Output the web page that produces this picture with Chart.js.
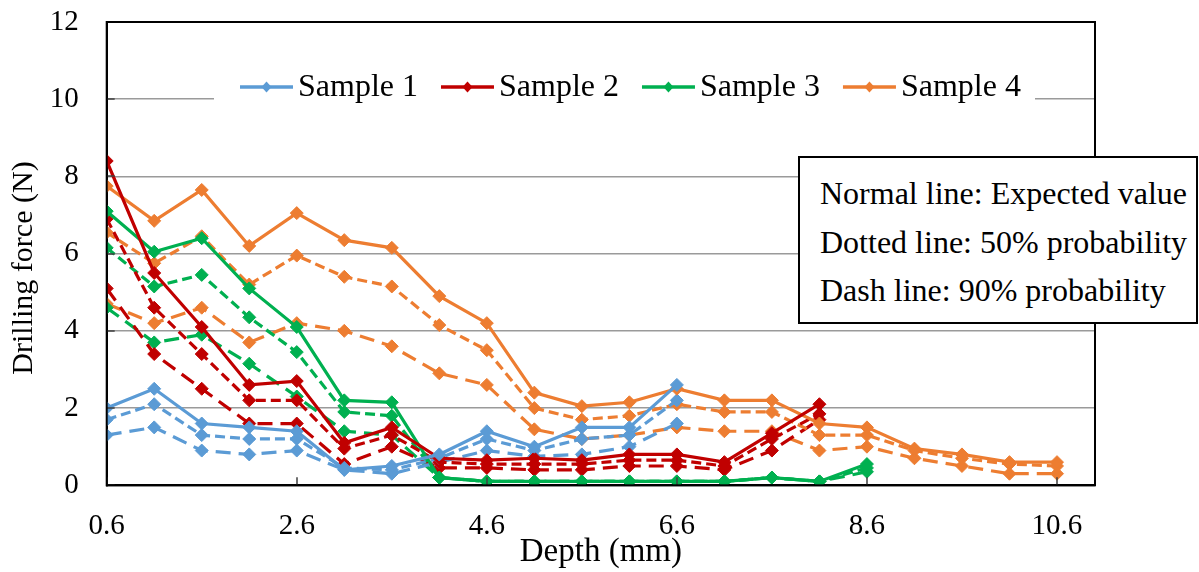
<!DOCTYPE html>
<html>
<head>
<meta charset="utf-8">
<script src="https://cdn.jsdelivr.net/npm/chart.js@4"></script>
<style>
  body { margin: 0; background: #fff; }
  #wrap { position: relative; width: 1199px; height: 572px; }
  #note {
    position: absolute; left: 798px; top: 156px; width: 400px; height: 168px;
    box-sizing: border-box; border: 2px solid #000; background: #fff;
    font-family: "Liberation Serif", "Times New Roman", serif; font-size: 32px;
    line-height: 48.5px; padding: 11px 0 0 20px; color: #000; white-space: nowrap;
  }
</style>
</head>
<body>
<div id="wrap">
  <canvas id="myChart" width="1199" height="572"></canvas>
  <div id="note">Normal line: Expected value<br>Dotted line: 50% probability<br>Dash line: 90% probability</div>
</div>
<script>
const depth = [0.6, 1.1, 1.6, 2.1, 2.6, 3.1, 3.6, 4.1, 4.6, 5.1, 5.6, 6.1, 6.6, 7.1, 7.6, 8.1, 8.6, 9.1, 9.6, 10.1, 10.6];
const xTicks = [0.6, 2.6, 4.6, 6.6, 8.6, 10.6];
const yTicks = [0, 2, 4, 6, 8, 10, 12];

// expected value / 50% probability / 90% probability
const s1_expected = [2.0, 2.5, 1.6, 1.5, 1.4, 0.4, 0.5, 0.8, 1.4, 1.0, 1.5, 1.5, 2.6];
const s1_p50 = [1.7, 2.1, 1.3, 1.2, 1.2, 0.45, 0.4, 0.7, 1.2, 0.9, 1.2, 1.3, 2.2];
const s1_p90 = [1.3, 1.5, 0.9, 0.8, 0.9, 0.4, 0.3, 0.6, 0.9, 0.75, 0.8, 1.0, 1.6];

const s2_expected = [8.4, 5.5, 4.1, 2.6, 2.7, 1.1, 1.5, 0.7, 0.65, 0.7, 0.65, 0.8, 0.8, 0.6, 1.35, 2.1];
const s2_p50 = [6.9, 4.6, 3.4, 2.2, 2.2, 0.95, 1.3, 0.6, 0.55, 0.55, 0.55, 0.65, 0.65, 0.5, 1.2, 1.85];
const s2_p90 = [5.1, 3.4, 2.5, 1.6, 1.6, 0.55, 1.0, 0.45, 0.45, 0.4, 0.4, 0.5, 0.5, 0.4, 0.9, 1.7];

const s3_expected = [7.1, 6.05, 6.4, 5.1, 4.1, 2.2, 2.15, 0.2, 0.1, 0.1, 0.1, 0.1, 0.1, 0.1, 0.2, 0.1, 0.55];
const s3_p50 = [6.15, 5.15, 5.45, 4.35, 3.45, 1.9, 1.8, 0.2, 0.1, 0.1, 0.1, 0.1, 0.1, 0.1, 0.2, 0.1, 0.45];
const s3_p90 = [4.6, 3.7, 3.9, 3.15, 2.3, 1.4, 1.3, 0.2, 0.1, 0.1, 0.1, 0.1, 0.1, 0.1, 0.2, 0.1, 0.35];

const s4_expected = [7.75, 6.85, 7.65, 6.2, 7.05, 6.35, 6.15, 4.9, 4.2, 2.4, 2.05, 2.15, 2.5, 2.2, 2.2, 1.6, 1.5, 0.95, 0.8, 0.6, 0.6];
const s4_p50 = [6.55, 5.75, 6.45, 5.2, 5.95, 5.4, 5.15, 4.15, 3.5, 2.0, 1.7, 1.8, 2.1, 1.9, 1.9, 1.3, 1.3, 0.9, 0.7, 0.55, 0.5];
const s4_p90 = [4.7, 4.2, 4.6, 3.7, 4.2, 4.0, 3.6, 2.9, 2.6, 1.45, 1.2, 1.3, 1.5, 1.4, 1.4, 0.9, 1.0, 0.7, 0.5, 0.3, 0.3];

const samples = ["Sample 1", "Sample 2", "Sample 3", "Sample 4"];
const colors = ["#5B9BD5", "#C00000", "#00B050", "#ED7D31"];

const serif = "'Liberation Serif', 'Times New Roman', serif";
Chart.defaults.font.family = serif;
Chart.defaults.color = "#000";

const dotted = [10, 5];
const dashed = [15, 8];

function line(label, color, values, dash) {
  return {
    label: label,
    data: values,
    borderColor: color,
    backgroundColor: color,
    borderWidth: 3.2,
    borderDash: dash,
    pointStyle: "rectRot",
    pointRadius: 6.5,
    pointBorderWidth: 1,
    tension: 0,
  };
}

const datasets = [
  line(samples[0], colors[0], s1_expected, []),
  line(samples[1], colors[1], s2_expected, []),
  line(samples[2], colors[2], s3_expected, []),
  line(samples[3], colors[3], s4_expected, []),
  line("Sample 1 50%", colors[0], s1_p50, dotted),
  line("Sample 2 50%", colors[1], s2_p50, dotted),
  line("Sample 3 50%", colors[2], s3_p50, dotted),
  line("Sample 4 50%", colors[3], s4_p50, dotted),
  line("Sample 1 90%", colors[0], s1_p90, dashed),
  line("Sample 2 90%", colors[1], s2_p90, dashed),
  line("Sample 3 90%", colors[2], s3_p90, dashed),
  line("Sample 4 90%", colors[3], s4_p90, dashed),
];

// plot frame, inner tick marks, legend and y title
const frame = {
  id: "frame",
  afterDraw(chart) {
    const { ctx, chartArea: a, scales } = chart;
    ctx.save();

    ctx.strokeStyle = "#404040";
    ctx.lineWidth = 1.5;
    ctx.beginPath();
    xTicks.forEach((v) => {
      const px = Math.round(scales.x.getPixelForValue(v));
      ctx.moveTo(px, a.bottom);
      ctx.lineTo(px, a.bottom - 8);
    });
    yTicks.forEach((v) => {
      const py = Math.round(scales.y.getPixelForValue(v));
      ctx.moveTo(a.left, py);
      ctx.lineTo(a.left + 8, py);
    });
    ctx.stroke();

    ctx.strokeStyle = "#000";
    ctx.lineWidth = 2;
    ctx.strokeRect(a.left, a.top, a.right - a.left, a.bottom - a.top);

    // legend
    ctx.fillStyle = "#fff";
    ctx.fillRect(214, 64, 821, 48);
    ctx.font = "32px " + serif;
    ctx.textBaseline = "middle";
    ctx.textAlign = "left";
    let lx = 240;
    const ly = 88;
    samples.forEach((name, i) => {
      ctx.strokeStyle = colors[i];
      ctx.lineWidth = 3.5;
      ctx.beginPath();
      ctx.moveTo(lx, ly - 1);
      ctx.lineTo(lx + 53, ly - 1);
      ctx.stroke();
      ctx.fillStyle = colors[i];
      ctx.beginPath();
      ctx.moveTo(lx + 26.5, ly - 6.5);
      ctx.lineTo(lx + 31.5, ly - 1);
      ctx.lineTo(lx + 26.5, ly + 4.5);
      ctx.lineTo(lx + 21.5, ly - 1);
      ctx.closePath();
      ctx.fill();
      ctx.fillStyle = "#000";
      ctx.fillText(name, lx + 58, ly);
      lx += 58 + ctx.measureText(name).width + 23;
    });

    // y axis title
    ctx.font = "30px " + serif;
    ctx.textAlign = "center";
    ctx.translate(24, 268);
    ctx.rotate(-Math.PI / 2);
    ctx.fillText("Drilling force (N)", 0, 0);
    ctx.restore();
  },
};

const ctx = document.getElementById("myChart");
new Chart(ctx, {
  type: "line",
  data: { labels: depth, datasets: datasets },
  options: {
    responsive: false,
    animation: false,
    devicePixelRatio: 1,
    layout: { padding: { top: 22, right: 104, left: 0, bottom: 0 } },
    plugins: { legend: { display: false }, tooltip: { enabled: false } },
    scales: {
      x: {
        type: "linear",
        min: 0.6,
        max: 11,
        afterBuildTicks: (s) => {
          s.ticks = xTicks.map((v) => ({ value: v }));
        },
        afterFit: (s) => {
          s.height = 86.7;
        },
        grid: { display: false, drawTicks: false },
        border: { color: "#000", width: 2 },
        ticks: {
          padding: 24,
          maxRotation: 0,
          font: { size: 29 },
          callback: (v) => Number(v).toFixed(1),
        },
        title: {
          display: true,
          text: "Depth (mm)",
          font: { size: 33 },
          padding: { top: 0, bottom: 0 },
        },
      },
      y: {
        min: 0,
        max: 12,
        afterFit: (s) => {
          s.width = 106.7;
          s.paddingTop = 0;
          s.paddingBottom = 0;
        },
        grid: { color: "#9a9a9a", lineWidth: 1.5, drawTicks: false },
        border: { color: "#000", width: 2 },
        ticks: { stepSize: 2, padding: 28, font: { size: 29 } },
      },
    },
  },
  plugins: [frame],
});
</script>
</body>
</html>
